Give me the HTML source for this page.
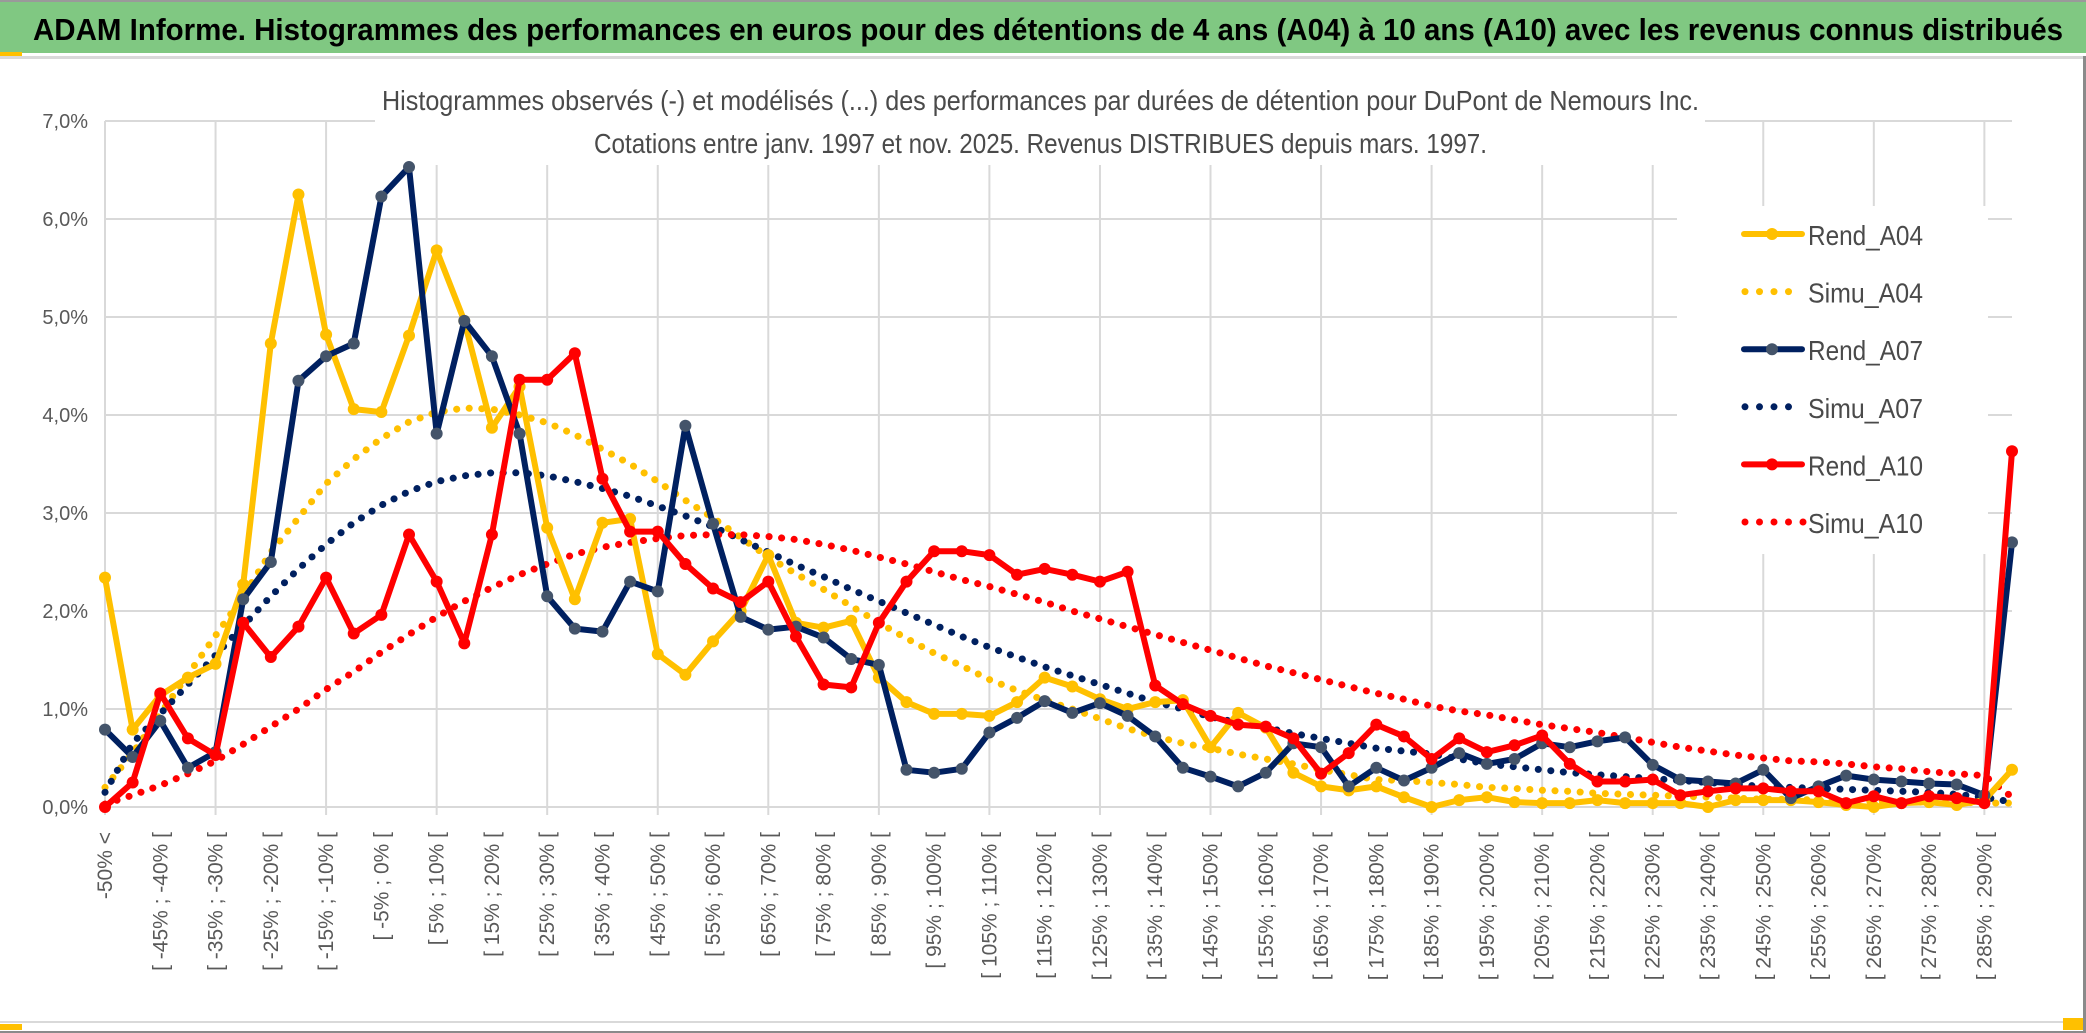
<!DOCTYPE html>
<html><head><meta charset="utf-8"><style>
html,body{margin:0;padding:0;background:#fff;}
svg{display:block;font-family:"Liberation Sans",sans-serif;}
</style></head><body>
<svg id="chart" width="2086" height="1033" viewBox="0 0 2086 1033" xmlns="http://www.w3.org/2000/svg">
<rect x="0" y="0" width="2086" height="1033" fill="#fff"/>
<rect x="0" y="0" width="2086" height="2" fill="#9a9a9a"/>
<rect x="0" y="2" width="2086" height="51" fill="#80c882"/>
<rect x="0" y="52" width="22" height="4" fill="#ffc000"/>
<rect x="0" y="56" width="2086" height="3" fill="#d9d9d9"/>
<text x="33" y="40" font-size="31" font-weight="bold" fill="#000" textLength="2030" lengthAdjust="spacingAndGlyphs">ADAM Informe. Histogrammes des performances en euros pour des détentions de 4 ans (A04) à 10 ans (A10) avec les revenus connus distribués</text>
<g id="grid"></g>
<rect x="375" y="80" width="1330" height="85" fill="#fff"/>
<text x="382" y="110" font-size="28" fill="#4a4a4a" textLength="1317" lengthAdjust="spacingAndGlyphs">Histogrammes observés (-) et modélisés (...) des performances par durées de détention pour DuPont de Nemours Inc.</text>
<text x="594" y="153" font-size="28" fill="#4a4a4a" textLength="893" lengthAdjust="spacingAndGlyphs">Cotations entre janv. 1997 et nov. 2025. Revenus DISTRIBUES depuis mars. 1997.</text>
<g id="yaxis"></g>
<g id="xaxis"></g>
<g id="series"></g>
<g id="legend"></g>
<rect x="0" y="1021" width="2086" height="2" fill="#d9d9d9"/>
<rect x="0" y="1024" width="22" height="6" fill="#ffc000"/>
<rect x="2063" y="1018" width="20" height="12" fill="#ffc000"/>
<rect x="0" y="1031" width="2086" height="2" fill="#8a8a8a"/>
<rect x="2083" y="56" width="3" height="977" fill="#8a8a8a"/>
</svg>
<script>
const yTicks = [0,1,2,3,4,5,6,7];
const yTickLabels = ["0,0%","1,0%","2,0%","3,0%","4,0%","5,0%","6,0%","7,0%"];
const binStarts = [];
for (let k = 1; k < 70; k++) binStarts.push(-55 + 5 * k);
const categories = ["-50% <"].concat(binStarts.map(a => "[ " + a + "% ; " + (a + 5) + "% ["));
const rendA04 = [2.34,0.79,1.14,1.32,1.46,2.27,4.73,6.25,4.82,4.06,4.03,4.81,5.68,4.96,3.87,4.29,2.85,2.12,2.90,2.94,1.56,1.35,1.69,2.0,2.57,1.88,1.83,1.90,1.32,1.07,0.95,0.95,0.93,1.07,1.32,1.23,1.1,1.0,1.07,1.09,0.61,0.96,0.81,0.35,0.21,0.17,0.21,0.10,0.0,0.07,0.10,0.05,0.04,0.04,0.07,0.04,0.04,0.04,0.0,0.07,0.07,0.07,0.05,0.02,0.0,0.04,0.05,0.02,0.07,0.38];
const rendA07 = [0.79,0.51,0.88,0.40,0.56,2.12,2.50,4.35,4.60,4.73,6.23,6.53,3.81,4.96,4.60,3.81,2.15,1.82,1.79,2.30,2.20,3.89,2.89,1.94,1.81,1.84,1.73,1.51,1.45,0.38,0.35,0.39,0.76,0.91,1.08,0.96,1.06,0.93,0.72,0.40,0.31,0.21,0.35,0.65,0.61,0.21,0.40,0.27,0.40,0.55,0.44,0.49,0.65,0.61,0.67,0.71,0.43,0.28,0.26,0.24,0.38,0.09,0.21,0.32,0.28,0.26,0.24,0.23,0.12,2.70];
const rendA10 = [0.0,0.25,1.16,0.70,0.53,1.88,1.53,1.84,2.34,1.77,1.96,2.78,2.30,1.67,2.78,4.36,4.36,4.63,3.35,2.81,2.81,2.48,2.23,2.09,2.30,1.74,1.25,1.22,1.88,2.30,2.61,2.61,2.57,2.37,2.43,2.37,2.30,2.40,1.24,1.05,0.93,0.84,0.82,0.70,0.34,0.55,0.84,0.72,0.49,0.70,0.56,0.63,0.73,0.44,0.26,0.26,0.28,0.12,0.16,0.19,0.19,0.16,0.16,0.04,0.11,0.04,0.11,0.09,0.04,3.63];
const simuA04 = [0.2,0.55,0.95,1.35,1.75,2.15,2.6,2.95,3.3,3.55,3.76,3.93,4.03,4.07,4.06,4.0,3.92,3.8,3.65,3.5,3.32,3.13,2.95,2.75,2.55,2.38,2.22,2.05,1.88,1.72,1.57,1.44,1.3,1.19,1.09,1.0,0.9,0.8,0.72,0.65,0.6,0.54,0.49,0.44,0.38,0.33,0.28,0.27,0.25,0.23,0.2,0.19,0.17,0.16,0.14,0.13,0.12,0.11,0.1,0.09,0.08,0.08,0.07,0.06,0.06,0.05,0.05,0.05,0.04,0.04];
const simuA07 = [0.15,0.65,0.95,1.25,1.55,1.85,2.15,2.43,2.68,2.9,3.08,3.22,3.32,3.38,3.41,3.41,3.38,3.32,3.25,3.17,3.07,2.97,2.86,2.73,2.6,2.47,2.35,2.22,2.1,1.98,1.86,1.74,1.63,1.53,1.43,1.34,1.25,1.16,1.07,1.0,0.92,0.86,0.81,0.75,0.7,0.65,0.6,0.57,0.54,0.49,0.44,0.41,0.38,0.35,0.33,0.31,0.29,0.27,0.25,0.23,0.21,0.2,0.19,0.18,0.17,0.16,0.15,0.13,0.1,0.05];
const simuA10 = [0.03,0.12,0.22,0.34,0.47,0.64,0.82,1.0,1.2,1.38,1.58,1.76,1.94,2.1,2.24,2.37,2.48,2.58,2.65,2.7,2.74,2.77,2.78,2.78,2.76,2.73,2.68,2.62,2.55,2.48,2.4,2.32,2.25,2.17,2.09,2.0,1.92,1.84,1.76,1.68,1.6,1.52,1.44,1.37,1.3,1.23,1.16,1.1,1.03,0.98,0.94,0.89,0.84,0.8,0.76,0.71,0.66,0.61,0.57,0.53,0.5,0.47,0.46,0.44,0.41,0.39,0.36,0.34,0.32,0.1];
const seriesNames = ["Rend_A04","Simu_A04","Rend_A07","Simu_A07","Rend_A10","Simu_A10"];

const NS = "http://www.w3.org/2000/svg";
const X0 = 105, X1 = 2012, Y0 = 807, Y7 = 121;
const nCat = categories.length;
function xPos(i){ return X0 + i * (X1 - X0) / (nCat - 1); }
function yPos(v){ return Y0 - v * (Y0 - Y7) / 7; }
function mk(tag, attrs, parent){ const e = document.createElementNS(NS, tag); for (const k in attrs) e.setAttribute(k, attrs[k]); parent.appendChild(e); return e; }

const grid = document.getElementById('grid');
yTicks.forEach(v => {
  const l = mk('line', {x1: X0, x2: X1, y1: yPos(v), y2: yPos(v), stroke: '#d9d9d9', 'stroke-width': 2}, grid);
  
  
});
for (let i = 0; i < nCat; i += 4) {
  const l = mk('line', {x1: xPos(i), x2: xPos(i), y1: Y7, y2: Y0 + 8, stroke: '#d9d9d9', 'stroke-width': 2}, grid);
  
  
}

const yax = document.getElementById('yaxis');
yTicks.forEach((v, i) => {
  const t = mk('text', {x: 88, y: yPos(v) + 7, 'font-size': 20, fill: '#595959', 'text-anchor': 'end'}, yax);
  t.textContent = yTickLabels[i];
  
  
});

const xax = document.getElementById('xaxis');
for (let i = 0; i < nCat; i += 2) {
  const x = xPos(i) + 7;
  const t = mk('text', {x: 0, y: 0, 'font-size': 21, fill: '#595959', 'text-anchor': 'end', transform: 'translate(' + x + ',832) rotate(-90)'}, xax);
  t.textContent = categories[i];
  
  
}

const sg = document.getElementById('series');
function pathFor(arr){ return arr.map((v, i) => (i ? 'L' : 'M') + xPos(i).toFixed(1) + ' ' + yPos(v).toFixed(1)).join(' '); }
function dotted(arr, color, name){
  const p = mk('path', {d: pathFor(arr), fill: 'none', stroke: color, 'stroke-width': 7, 'stroke-linecap': 'round', 'stroke-dasharray': '0.1 12.5'}, sg);
  
  
}
function solid(arr, color, mcolor, name){
  const g = mk('g', {}, sg);
  
  
  const p = mk('path', {d: pathFor(arr), fill: 'none', stroke: color, 'stroke-width': 6, 'stroke-linejoin': 'round'}, g);
  
  
  arr.forEach((v, i) => {
    const c = mk('circle', {cx: xPos(i), cy: yPos(v), r: 6, fill: mcolor}, g);
    
    
  });
}
dotted(simuA04, '#ffc000', 'simu-a04-line');
dotted(simuA07, '#002060', 'simu-a07-line');
dotted(simuA10, '#ff0000', 'simu-a10-line');
solid(rendA04, '#ffc000', '#ffc000', 'rend-a04');
solid(rendA07, '#002060', '#44546a', 'rend-a07');
solid(rendA10, '#ff0000', '#ff0000', 'rend-a10');

const lg = document.getElementById('legend');
const lbg = mk('rect', {x: 1677, y: 206, width: 311, height: 348, fill: '#fff'}, lg);


const lColors = ['#ffc000','#ffc000','#002060','#002060','#ff0000','#ff0000'];
const lMark = ['#ffc000',null,'#44546a',null,'#ff0000',null];
seriesNames.forEach((nm, i) => {
  const cy = 234 + i * 57.6;
  const g = mk('g', {}, lg);
  
  
  if (lMark[i]) {
    mk('line', {x1: 1744, x2: 1802, y1: cy, y2: cy, stroke: lColors[i], 'stroke-width': 6, 'stroke-linecap': 'round'}, g);
    mk('circle', {cx: 1772, cy: cy, r: 6, fill: lMark[i]}, g);
  } else {
    const n = i === 5 ? 5 : 4;
    for (let k = 0; k < n; k++) mk('circle', {cx: 1745 + k * 14.5, cy: cy, r: 3.5, fill: lColors[i]}, g);
  }
  const t = mk('text', {x: 1808, y: cy + 11, 'font-size': 28, fill: '#4a4a4a', textLength: 115, lengthAdjust: 'spacingAndGlyphs'}, g);
  t.textContent = nm;
});
</script>
</body></html>
